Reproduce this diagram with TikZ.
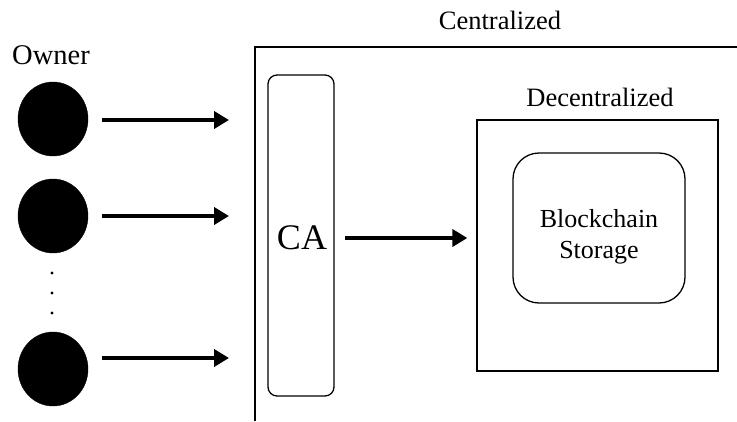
\documentclass[tikz,border=0pt]{standalone}
\usepackage{fontspec}
\setmainfont{Liberation Serif}
\usetikzlibrary{arrows.meta,shapes.geometric}
\begin{document}
\begin{tikzpicture}[x=1pt,y=-1pt,
  owner/.style={ellipse,fill=black,draw=black,minimum width=70pt,minimum height=74pt,inner sep=0pt},
  flow/.style={line width=4pt,-{Triangle[length=15pt,width=17pt]}},
  frame/.style={draw=black,line width=1.3pt},
  lbl/.style={inner sep=0pt}]
\useasboundingbox (0,0) rectangle (737,421);
% outer centralized region (open to the right and bottom)
\draw[frame] (737,47) -- (255,47) -- (255,421);
\node[lbl,font=\fontsize{26.5}{30}\selectfont] (cent) at (500,20) {Centralized};
% owners
\node[lbl,font=\fontsize{28.5}{30}\selectfont] (own) at (51,55) {Owner};
\node[owner] (o1) at (53,119) {};
\node[owner] (o2) at (53,216) {};
\node[owner] (o3) at (53,369) {};
\fill (52,273) circle (1.6pt) (52,293) circle (1.6pt) (52,313) circle (1.6pt);
\coordinate (t1) at (229,120);
\coordinate (t2) at (229,216);
\coordinate (t3) at (229,358);
\draw[flow] ([xshift=14pt]o1.east |- t1) -- (t1);
\draw[flow] ([xshift=14pt]o2.east |- t2) -- (t2);
\draw[flow] ([xshift=14pt]o3.east |- t3) -- (t3);
% certificate authority
\node[frame,rounded corners=9pt,minimum width=66pt,minimum height=321pt,inner sep=0pt] (ca) at (301,235.5) {};
\node[lbl,font=\fontsize{36}{38}\selectfont] (catxt) at (302,238) {CA};
% decentralized region
\node[frame,minimum width=241pt,minimum height=251pt,inner sep=0pt] (dec) at (597.5,245.5) {};
\node[lbl,font=\fontsize{26.5}{30}\selectfont] (dectxt) at (600,97) {Decentralized};
\node[frame,rounded corners=26pt,minimum width=172pt,minimum height=150pt,inner sep=0pt] (bc) at (599,228) {};
\node[lbl,align=center,font=\fontsize{26}{31}\selectfont] (bctxt) at (599,237) {Blockchain\\Storage};
\draw[flow] ([xshift=10pt]ca.east |- catxt) -- ([xshift=-9pt]dec.west |- catxt);
\end{tikzpicture}
\end{document}
